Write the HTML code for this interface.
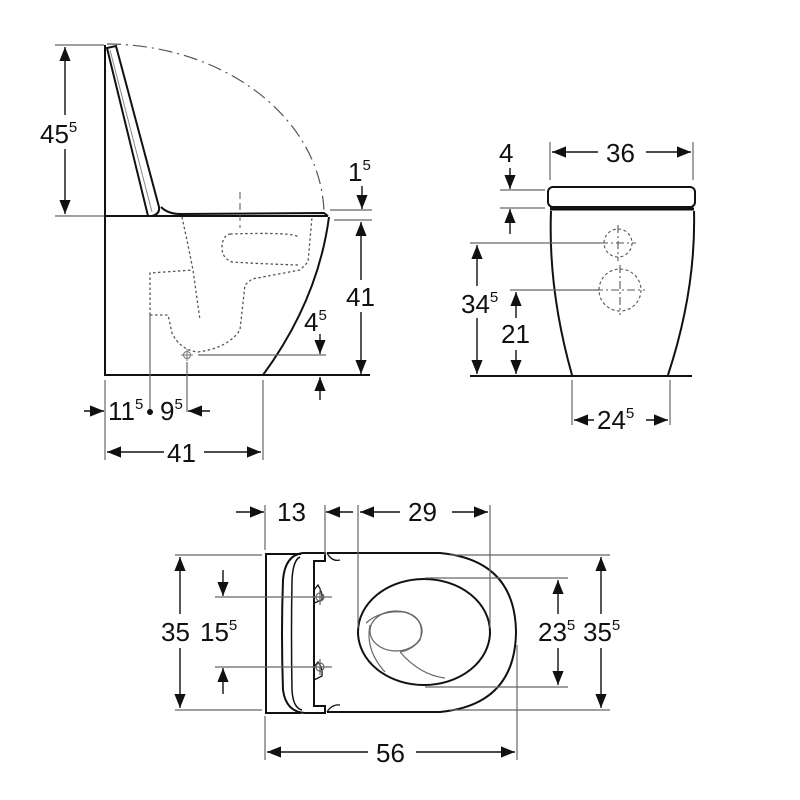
<!DOCTYPE html>
<html><head><meta charset="utf-8"><style>
html,body{margin:0;padding:0;background:#fff}
svg{display:block}
text{font-family:"Liberation Sans",sans-serif;font-size:26px;fill:#111}
.s{font-size:15px}
</style></head><body>
<svg width="800" height="800" viewBox="0 0 800 800" xmlns="http://www.w3.org/2000/svg">
<defs>
<marker id="a" viewBox="0 0 10 10" refX="10" refY="5" markerWidth="14" markerHeight="14" markerUnits="userSpaceOnUse" orient="auto-start-reverse"><path d="M0,1 L10,5 L0,9 z" fill="#111"/></marker>
</defs>
<g fill="none" stroke="#111">
<!-- SIDE VIEW -->
<g stroke-width="2">
<line x1="105" y1="45" x2="105" y2="376"/>
<line x1="104" y1="375" x2="370" y2="375"/>
<line x1="105" y1="216" x2="328" y2="216"/>
<path d="M329,217 Q318,300 263,375"/>
<path d="M107,48 L116,46 L159,207 Q160,214 152,216 L148,216 Z"/>
<path d="M161,207 Q168,214 180,214 L324,213 L328,216"/>
</g>
<path d="M110,50 L152,212" stroke="#888" stroke-width="1"/>
<path d="M107,44 A218,172 0 0 1 324,212" stroke="#555" stroke-width="1.2" stroke-dasharray="14,5,2,5"/>
<line x1="240" y1="192" x2="240" y2="228" stroke="#555" stroke-dasharray="7,4"/>
<g stroke="#555" stroke-width="1.3" stroke-dasharray="2.5,2.5">
<path d="M182,217 L188,245 L193,270 L200,320"/>
<path d="M150,315 L150,273 L193,270"/>
<path d="M150,315 L168,315 L172,333 Q180,350 198,352 Q228,348 240,330 L245,285 L252,279 L300,270 L308,262 L312,217"/>
<path d="M230,234 Q295,232 298,237 M298,265 Q265,264 232,262 Q222,258 222,248 Q222,236 230,234"/>
</g>
<circle cx="187" cy="355" r="3.5" stroke="#777" stroke-width="1"/>
<path d="M181,355 H193 M187,349 V361" stroke="#777" stroke-width="1"/>
<g stroke="#666" stroke-width="1.2">
<line x1="55" y1="45" x2="104" y2="45"/>
<line x1="55" y1="216" x2="104" y2="216"/>
<line x1="330" y1="210" x2="372" y2="210"/>
<line x1="334" y1="220" x2="372" y2="220"/>
<line x1="198" y1="355" x2="326" y2="355"/>
<line x1="105" y1="380" x2="105" y2="460"/>
<line x1="150" y1="315" x2="150" y2="410"/>
<line x1="187" y1="362" x2="187" y2="412"/>
<line x1="263" y1="380" x2="263" y2="460"/>
</g>
<g stroke-width="1.4">
<line x1="65" y1="47" x2="65" y2="214" marker-start="url(#a)" marker-end="url(#a)"/>
<line x1="362" y1="186" x2="362" y2="209" marker-end="url(#a)"/>
<line x1="361" y1="222" x2="361" y2="374" marker-start="url(#a)" marker-end="url(#a)"/>
<line x1="320" y1="334" x2="320" y2="354" marker-end="url(#a)"/>
<line x1="320" y1="400" x2="320" y2="377" marker-end="url(#a)"/>
<line x1="84" y1="411" x2="104" y2="411" marker-end="url(#a)"/>
<line x1="210" y1="411" x2="188" y2="411" marker-end="url(#a)"/>
<line x1="107" y1="452" x2="261" y2="452" marker-start="url(#a)" marker-end="url(#a)"/>
</g>
</g>
<circle cx="150" cy="412" r="3" fill="#111"/>
<rect x="38" y="115" width="56" height="34" fill="#fff"/>
<text x="40" y="143">45<tspan class="s" dy="-11">5</tspan></text>
<text x="348" y="181">1<tspan class="s" dy="-11">5</tspan></text>
<rect x="344" y="280" width="34" height="32" fill="#fff"/>
<text x="346" y="306">41</text>
<text x="304" y="331">4<tspan class="s" dy="-11">5</tspan></text>
<text x="108" y="420">11<tspan class="s" dy="-11">5</tspan></text>
<text x="160" y="420">9<tspan class="s" dy="-11">5</tspan></text>
<rect x="164" y="438" width="40" height="30" fill="#fff"/>
<text x="167" y="462">41</text>

<!-- FRONT VIEW -->
<g fill="none" stroke="#111">
<g stroke-width="2">
<rect x="548" y="187" width="147" height="20" rx="5"/>
<line x1="550" y1="209" x2="694" y2="209" stroke-width="3"/>
<path d="M551,211 Q548,290 572,375"/>
<path d="M694,211 Q696,290 668,375"/>
<line x1="470" y1="376" x2="692" y2="376"/>
</g>
<g stroke="#666" stroke-width="1.2">
<line x1="550" y1="142" x2="550" y2="180"/>
<line x1="693" y1="142" x2="693" y2="180"/>
<line x1="500" y1="190" x2="545" y2="190"/>
<line x1="500" y1="208" x2="545" y2="208"/>
<line x1="470" y1="243" x2="600" y2="243"/>
<line x1="510" y1="290" x2="598" y2="290"/>
<line x1="572" y1="380" x2="572" y2="425"/>
<line x1="670" y1="380" x2="670" y2="425"/>
</g>
<g stroke="#555" stroke-width="1.1">
<circle cx="618" cy="243" r="14" stroke-dasharray="3,2.5"/>
<circle cx="620" cy="290" r="21" stroke-dasharray="3,2.5"/>
<path d="M600,243 H636 M618,225 V261 M595,290 H645 M620,265 V315" stroke-dasharray="8,3,2,3"/>
</g>
<g stroke-width="1.4">
<line x1="552" y1="152" x2="691" y2="152" marker-start="url(#a)" marker-end="url(#a)"/>
<line x1="510" y1="168" x2="510" y2="189" marker-end="url(#a)"/>
<line x1="510" y1="234" x2="510" y2="209" marker-end="url(#a)"/>
<line x1="477" y1="245" x2="477" y2="374" marker-start="url(#a)" marker-end="url(#a)"/>
<line x1="516" y1="292" x2="516" y2="374" marker-start="url(#a)" marker-end="url(#a)"/>
<line x1="574" y1="420" x2="668" y2="420" marker-start="url(#a)" marker-end="url(#a)"/>
</g>
</g>
<rect x="598" y="136" width="48" height="32" fill="#fff"/>
<text x="606" y="162">36</text>
<text x="499" y="162">4</text>
<rect x="458" y="286" width="46" height="32" fill="#fff"/>
<text x="461" y="313">34<tspan class="s" dy="-11">5</tspan></text>
<rect x="500" y="318" width="32" height="32" fill="#fff"/>
<text x="501" y="343">21</text>
<rect x="594" y="404" width="52" height="32" fill="#fff"/>
<text x="597" y="429">24<tspan class="s" dy="-11">5</tspan></text>

<!-- TOP VIEW -->
<g fill="none" stroke="#111">
<g stroke-width="2">
<path d="M301,554 L266,554 L266,713 L301,713"/>
<path d="M303,553 Q285,555 283,580 Q281,633 283,690 Q286,712 305,713 L325,713 L325,706 L314,706 L314,561 L325,561 L325,553 Z"/>
<path d="M300,557 Q293,560 292,580 Q291,633 292,690 Q293,708 302,710" stroke-width="1.5"/>
<path d="M327,553 L440,553 Q515,560 516,632 Q515,705 440,712 L327,712"/>
<path d="M327,553 Q332,562 340,560" stroke-width="1.3"/>
<path d="M327,712 Q332,704 340,705" stroke-width="1.3"/>
<ellipse cx="424" cy="632" rx="66" ry="53"/>
<path d="M314,590 L318,585 Q323,593 322,600 L314,603" stroke-width="1.3"/>
<path d="M314,667 L318,662 Q323,668 322,676 L314,680" stroke-width="1.3"/>
</g>
<g stroke="#666" stroke-width="1.2">
<ellipse cx="396" cy="631" rx="26" ry="20"/>
<path d="M366,623 Q380,610 405,612 Q426,618 420,640 Q412,650 400,652"/>
<path d="M370,625 Q365,650 385,672"/>
<path d="M400,652 Q420,675 445,678"/>
<circle cx="320" cy="597" r="4"/><path d="M312,597 H332 M320,589 V605"/>
<circle cx="320" cy="667" r="4"/><path d="M312,667 H332 M320,659 V675"/>
<line x1="265" y1="505" x2="265" y2="550"/>
<line x1="325" y1="505" x2="325" y2="555"/>
<line x1="358" y1="505" x2="358" y2="628"/>
<line x1="490" y1="505" x2="490" y2="628"/>
<line x1="175" y1="555" x2="262" y2="555"/>
<line x1="175" y1="710" x2="262" y2="710"/>
<line x1="215" y1="597" x2="314" y2="597"/>
<line x1="215" y1="667" x2="314" y2="667"/>
<line x1="425" y1="578" x2="568" y2="578"/>
<line x1="425" y1="687" x2="568" y2="687"/>
<line x1="450" y1="555" x2="610" y2="555"/>
<line x1="450" y1="710" x2="610" y2="710"/>
<line x1="265" y1="716" x2="265" y2="760"/>
<line x1="517" y1="645" x2="517" y2="760"/>
</g>
<g stroke-width="1.4">
<line x1="236" y1="512" x2="264" y2="512" marker-end="url(#a)"/>
<line x1="353" y1="512" x2="326" y2="512" marker-end="url(#a)"/>
<line x1="360" y1="512" x2="488" y2="512" marker-start="url(#a)" marker-end="url(#a)"/>
<line x1="180" y1="557" x2="180" y2="708" marker-start="url(#a)" marker-end="url(#a)"/>
<line x1="223" y1="570" x2="223" y2="596" marker-end="url(#a)"/>
<line x1="223" y1="694" x2="223" y2="668" marker-end="url(#a)"/>
<line x1="558" y1="580" x2="558" y2="685" marker-start="url(#a)" marker-end="url(#a)"/>
<line x1="601" y1="557" x2="601" y2="708" marker-start="url(#a)" marker-end="url(#a)"/>
<line x1="267" y1="752" x2="515" y2="752" marker-start="url(#a)" marker-end="url(#a)"/>
</g>
</g>
<text x="277" y="521">13</text>
<rect x="400" y="496" width="52" height="32" fill="#fff"/>
<text x="408" y="521">29</text>
<rect x="160" y="614" width="84" height="34" fill="#fff"/>
<text x="161" y="641">35</text>
<text x="200" y="641">15<tspan class="s" dy="-11">5</tspan></text>
<rect x="536" y="614" width="106" height="34" fill="#fff"/>
<text x="538" y="641">23<tspan class="s" dy="-11">5</tspan></text>
<text x="583" y="641">35<tspan class="s" dy="-11">5</tspan></text>
<rect x="368" y="736" width="48" height="32" fill="#fff"/>
<text x="376" y="762">56</text>
</svg>
</body></html>
